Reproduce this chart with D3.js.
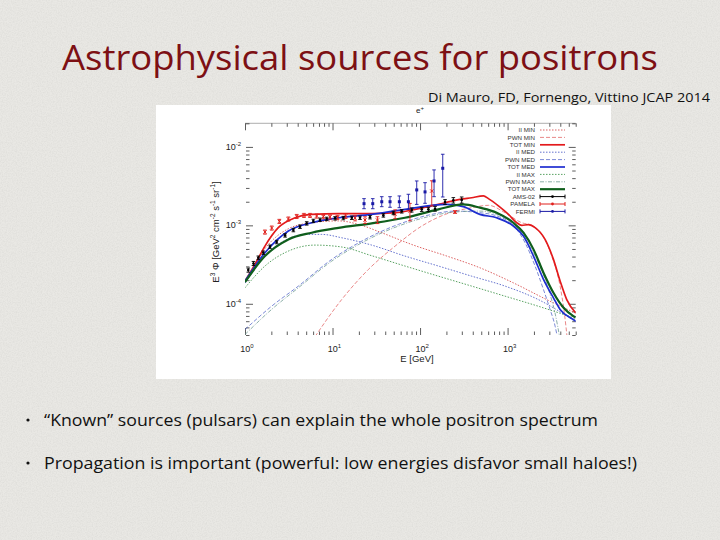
<!DOCTYPE html>
<html>
<head>
<meta charset="utf-8">
<script src="https://cdn.jsdelivr.net/npm/d3@7"></script>
<style>
body { margin: 0; background: #e8e7e3; }
svg { display: block; }
</style>
</head>
<body>
<div id="chart"></div>
<script>
// model curves, [E (GeV), E^3 flux]
const iiMin = [[1,1.89e-4],[1.69,5.04e-4],[3.13,9.06e-4],[5.78,1.08e-3],[11.7,1.14e-3],[21.5,1.0e-3],[34.9,8.2e-4],[84,5.6e-4],[202,4.06e-4],[482,2.88e-4],[1163,1.85e-4],[2800,1.13e-4],[6000,7.6e-5]];
const pwnMin = [[5.78,3.3e-5],[12.7,1.13e-4],[25.7,2.74e-4],[51.9,5.44e-4],[104.6,9.8e-4],[194,1.38e-3],[389,1.68e-3],[604,1.8e-3],[936,1.45e-3],[1452,1.08e-3],[1890,1.0e-3],[2460,7.67e-4],[3200,4.06e-4],[3980,1.68e-4],[4450,7.67e-5],[4860,3.17e-5]];
const totMin = [[1,1.95e-4],[1.3,3.18e-4],[1.69,5.44e-4],[2.4,9.34e-4],[3.73,1.25e-3],[5.78,1.38e-3],[11.7,1.41e-3],[28,1.41e-3],[52,1.45e-3],[88,1.6e-3],[162,1.85e-3],[251,2.08e-3],[389,2.25e-3],[530,2.37e-3],[604,2.19e-3],[786,1.77e-3],[1023,1.38e-3],[1273,1.08e-3],[1452,1.0e-3],[1730,1.02e-3],[2060,9.34e-4],[2680,6.62e-4],[3340,3.68e-4],[3980,1.95e-4],[4740,1.13e-4],[6000,7.67e-5]];
const iiMed = [[1,1.83e-4],[1.69,4.06e-4],[3.13,6.75e-4],[4.85,7.67e-4],[7.52,7.67e-4],[12.7,6.95e-4],[28,5.6e-4],[67.2,4.06e-4],[162,3.03e-4],[389,2.25e-4],[936,1.68e-4],[2250,1.13e-4],[6000,5.9e-5]];
const pwnMed = [[1,4.7e-5],[2.02,9.34e-5],[4.07,1.68e-4],[9.8,3.68e-4],[23.5,6.62e-4],[56.7,1.03e-3],[136,1.38e-3],[251,1.52e-3],[482,1.45e-3],[750,1.32e-3],[1163,1.0e-3],[1585,6.0e-4],[2060,3.03e-4],[2570,1.52e-4],[3060,8.47e-5],[3490,5.19e-5],[3810,3.17e-5]];
const totMed = [[1,1.95e-4],[1.69,4.48e-4],[3.13,8.47e-4],[5.78,1.08e-3],[11.7,1.25e-3],[28,1.38e-3],[67.2,1.6e-3],[202,1.85e-3],[312,1.73e-3],[482,1.38e-3],[750,1.25e-3],[1163,9.8e-4],[1519,7.31e-4],[1976,4.06e-4],[2570,2.05e-4],[3340,1.19e-4],[3980,8.47e-5],[5640,6.31e-5],[6000,6.0e-5]];
const iiMax = [[1,1.6e-4],[1.69,3.03e-4],[3.13,4.7e-4],[6.31,5.6e-4],[12.7,5.3e-4],[28,4.1e-4],[67.2,3.03e-4],[162,2.25e-4],[389,1.68e-4],[936,1.25e-4],[2250,9.3e-5],[6000,6.5e-5]];
const pwnMax = [[1,4.06e-5],[2.02,8.5e-5],[4.07,1.6e-4],[9.8,3.5e-4],[23.5,6.31e-4],[56.7,9.8e-4],[136,1.32e-3],[251,1.48e-3],[482,1.52e-3],[750,1.38e-3],[1163,1.03e-3],[1590,6.62e-4],[2250,3.34e-4],[2930,1.53e-4],[3480,7.67e-5],[3980,3.5e-5]];
const totMax = [[1,1.89e-4],[1.69,4.06e-4],[3.13,6.62e-4],[5.78,8.06e-4],[11.7,9.3e-4],[28,1.06e-3],[67.2,1.25e-3],[162,1.6e-3],[312,1.85e-3],[482,1.68e-3],[750,1.45e-3],[1163,1.08e-3],[1519,8.06e-4],[1976,4.94e-4],[2570,2.49e-4],[3340,1.38e-4],[4360,8.89e-5],[5640,6.97e-5],[6000,6.7e-5]];

// measurements
const amsE = [1.09,1.25,1.42,1.62,1.93,2.30,2.87,3.57,4.25,5.07,6.04,7.20,8.58,10.7,13.3,16.6,20.6,26.8,38.1,49.6,61.7,80.3,104.5,124.5,148.4,193,240,299];
const amsF = [2.69e-4,3.27e-4,3.87e-4,4.48e-4,5.35e-4,6.13e-4,7.45e-4,8.72e-4,9.61e-4,1.06e-3,1.14e-3,1.18e-3,1.21e-3,1.23e-3,1.24e-3,1.25e-3,1.25e-3,1.27e-3,1.34e-3,1.44e-3,1.51e-3,1.57e-3,1.60e-3,1.60e-3,1.63e-3,1.99e-3,2.09e-3,2.11e-3];
const amsErr = [0.06,0.06,0.05,0.05,0.05,0.05,0.05,0.05,0.05,0.05,0.05,0.05,0.05,0.05,0.05,0.05,0.05,0.05,0.05,0.05,0.05,0.06,0.06,0.06,0.07,0.07,0.08,0.09];

const pamE = [1.69,2.02,2.47,3.13,3.90,4.72,5.53,6.59,7.86,9.37,11.4,14.1,18.1,23.5,32.6,51.9,76.6,136,251];
const pamF = [8.22e-4,9.25e-4,1.125e-3,1.205e-3,1.30e-3,1.34e-3,1.34e-3,1.315e-3,1.29e-3,1.28e-3,1.265e-3,1.315e-3,1.24e-3,1.17e-3,1.17e-3,1.395e-3,1.524e-3,2.74e-3,1.48e-3];
const pamErr = [0.06,0.06,0.06,0.06,0.06,0.06,0.06,0.06,0.06,0.06,0.06,0.07,0.08,0.1,0.1,0.13,0.25,0.35,0.04];

const fermiE = [22.9,28.8,36.5,45.4,58,73.6,91.6,114,144.5,181.6];
const fermiF = [1.89e-3,1.89e-3,2.0e-3,2.0e-3,2.0e-3,2.0e-3,2.83e-3,2.67e-3,3.68e-3,5.34e-3];
const fermiLo = [1.63e-3,1.63e-3,1.73e-3,1.70e-3,1.68e-3,1.60e-3,1.85e-3,1.91e-3,2.32e-3,2.30e-3];
const fermiHi = [2.19e-3,2.19e-3,2.32e-3,2.32e-3,2.37e-3,2.49e-3,3.68e-3,3.50e-3,5.09e-3,8.06e-3];

const legendNames = ['II MIN','PWN MIN','TOT MIN','II MED','PWN MED','TOT MED','II MAX','PWN MAX','TOT MAX','AMS-02','PAMELA','FERMI'];
const xMajor = [1, 10, 100, 1000];
const yMajor = [1e-4, 1e-3, 1e-2];
const xLabelExp = ['0', '1', '2', '3'];
const yLabelExp = ['-4', '-3', '-2'];

const curves = [iiMin, pwnMin, totMin, iiMed, pwnMed, totMed, iiMax, pwnMax, totMax];
const curveStyle = [
	{ c: '#d33a3a', w: 0.8, d: '1.5,1.5' },
	{ c: '#e36a6a', w: 0.8, d: '4,2' },
	{ c: '#e31a1c', w: 1.7, d: null },
	{ c: '#3d4fc2', w: 0.8, d: '1.5,1.5' },
	{ c: '#5a6ccc', w: 0.8, d: '4,2' },
	{ c: '#1e2ed0', w: 1.7, d: null },
	{ c: '#2f8a3a', w: 0.8, d: '1.5,1.5' },
	{ c: '#6f9a92', w: 0.8, d: '4,1.5,1,1.5' },
	{ c: '#0f5e1c', w: 2.2, d: null }
];
const amsColor = '#000', pamColor = '#e0201c', fermiColor = '#1a1aa6';

const W = 720, H = 540;
const svg = d3.select('#chart').append('svg')
	.attr('width', W).attr('height', H);

const defs = svg.append('defs');
const paper = defs.append('filter').attr('id', 'paper')
	.attr('x', 0).attr('y', 0).attr('width', 1).attr('height', 1);
paper.append('feTurbulence').attr('type', 'fractalNoise')
	.attr('baseFrequency', 0.8).attr('numOctaves', 2).attr('seed', 4);
paper.append('feColorMatrix').attr('type', 'matrix')
	.attr('values', '0 0 0 0 0.45  0 0 0 0 0.45  0 0 0 0 0.43  1 0 0 0 -0.35');

svg.append('rect').attr('width', W).attr('height', H).attr('fill', '#e9e8e4');
svg.append('rect').attr('width', W).attr('height', H)
	.attr('filter', 'url(#paper)').attr('opacity', 0.35);

// slide texts
svg.append('text')
	.attr('x', 62).attr('y', 70)
	.attr('textLength', 596).attr('lengthAdjust', 'spacingAndGlyphs')
	.attr('font-family', 'Open Sans, sans-serif').attr('font-size', 34)
	.attr('fill', '#7d1014')
	.text('Astrophysical sources for positrons');

svg.append('text')
	.attr('x', 428).attr('y', 102)
	.attr('textLength', 282).attr('lengthAdjust', 'spacingAndGlyphs')
	.attr('font-family', 'Open Sans, sans-serif').attr('font-size', 13)
	.attr('fill', '#111')
	.text('Di Mauro, FD, Fornengo, Vittino JCAP 2014');

const bullets = [
	{ y: 426, len: 554, t: '\u201cKnown\u201d sources (pulsars) can explain the whole positron spectrum' },
	{ y: 469, len: 593, t: 'Propagation is important (powerful: low energies disfavor small haloes!)' }
];
bullets.forEach(b => {
	svg.append('circle').attr('cx', 28).attr('cy', b.y - 6).attr('r', 1.6).attr('fill', '#111');
	svg.append('text')
		.attr('x', 44).attr('y', b.y)
		.attr('textLength', b.len).attr('lengthAdjust', 'spacingAndGlyphs')
		.attr('font-family', 'Open Sans, sans-serif').attr('font-size', 17)
		.attr('fill', '#111')
		.text(b.t);
});

// chart picture
svg.append('rect').attr('x', 156).attr('y', 105).attr('width', 455).attr('height', 274).attr('fill', '#fff');

const x0 = 245, x1 = 575.7, y0 = 335, y1 = 123.3;
const x = d3.scaleLog().domain([1, 6000]).range([x0, x1]);
const y = d3.scaleLog().domain([4e-5, 2e-2]).range([y0, y1]);
const font = 'Liberation Sans, Arial, sans-serif';

const g = svg.append('g');
g.append('line').attr('x1', x0).attr('x2', x1).attr('y1', y1).attr('y2', y1)
	.attr('stroke', '#999').attr('stroke-width', 0.8);

const xMinor = x.ticks().filter(v => !xMajor.includes(v));
const yMinor = y.ticks().filter(v => !yMajor.some(m => Math.abs(m - v) / m < 1e-6));

function drawAxis(axis, tx, ty) {
	const a = g.append('g').attr('transform', `translate(${tx},${ty})`).call(axis);
	a.select('.domain').remove();
	a.selectAll('text').remove();
	a.selectAll('line').attr('stroke', '#333').attr('stroke-width', 0.8);
}
drawAxis(d3.axisBottom(x).tickValues(xMinor).tickSize(-3.5), 0, y0);
drawAxis(d3.axisBottom(x).tickValues(xMajor).tickSize(-7), 0, y0);
drawAxis(d3.axisTop(x).tickValues(xMinor).tickSize(-3.5), 0, y1);
drawAxis(d3.axisTop(x).tickValues(xMajor).tickSize(-7), 0, y1);
drawAxis(d3.axisLeft(y).tickValues(yMinor).tickSize(-3.5), x0 + 1, 0);
drawAxis(d3.axisLeft(y).tickValues(yMajor).tickSize(-7), x0 + 1, 0);
drawAxis(d3.axisRight(y).tickValues(yMinor).tickSize(-3.5), x1, 0);
drawAxis(d3.axisRight(y).tickValues(yMajor).tickSize(-7), x1, 0);

function powLabel(px, py, exp, anchor) {
	const t = g.append('text').attr('x', px).attr('y', py)
		.attr('text-anchor', anchor).attr('font-family', font)
		.attr('font-size', 9).attr('fill', '#222');
	t.append('tspan').text('10');
	t.append('tspan').attr('dy', -4).attr('font-size', 6).text(exp);
}
xMajor.forEach((v, i) => powLabel(x(v) + 2, 352, xLabelExp[i], 'middle'));
yMajor.forEach((v, i) => powLabel(241, y(v) + 3, yLabelExp[i], 'end'));

g.append('text').attr('x', 417).attr('y', 362).attr('text-anchor', 'middle')
	.attr('font-family', font).attr('font-size', 9.5).attr('fill', '#222')
	.text('E [GeV]');

const et = g.append('text').attr('x', 420).attr('y', 113).attr('text-anchor', 'middle')
	.attr('font-family', font).attr('font-size', 8).attr('fill', '#222');
et.append('tspan').text('e');
et.append('tspan').attr('dy', -3).attr('font-size', 6).text('+');

// y axis title with superscripts
const yl = g.append('text')
	.attr('transform', 'translate(219,232) rotate(-90)')
	.attr('text-anchor', 'middle').attr('font-family', font)
	.attr('font-size', 9.5).attr('fill', '#222');
const yParts = [['E', ''], ['3', 's'], [' \u03a6 [GeV', ''], ['2', 's'], [' cm', ''], ['-2', 's'], [' s', ''], ['-1', 's'], [' sr', ''], ['-1', 's'], [']', '']];
let up = false;
yParts.forEach(p => {
	const sup = p[1] === 's';
	const ts = yl.append('tspan').text(p[0]);
	if (sup && !up) { ts.attr('dy', -4).attr('font-size', 6.5); up = true; }
	else if (!sup && up) { ts.attr('dy', 4); up = false; }
	else if (sup) ts.attr('font-size', 6.5);
});

// curves
defs.append('clipPath').attr('id', 'plot').append('rect')
	.attr('x', x0).attr('y', y1).attr('width', x1 - x0).attr('height', y0 - y1);
const plot = g.append('g').attr('clip-path', 'url(#plot)');
const line = d3.line().x(d => x(d[0])).y(d => y(d[1])).curve(d3.curveMonotoneX);

const order = [0, 1, 3, 4, 6, 7, 2, 5, 8];
order.forEach(i => {
	const s = curveStyle[i];
	plot.append('path').datum(curves[i]).attr('d', line)
		.attr('fill', 'none').attr('stroke', s.c).attr('stroke-width', s.w)
		.attr('stroke-dasharray', s.d);
});

function errBars(es, fs, lo, hi, color) {
	const grp = plot.append('g').attr('stroke', color).attr('stroke-width', 0.9);
	es.forEach((e, i) => {
		const px = x(e);
		grp.append('line').attr('x1', px).attr('x2', px).attr('y1', y(lo[i])).attr('y2', y(hi[i]));
		[lo[i], hi[i]].forEach(v => {
			grp.append('line').attr('x1', px - 1.8).attr('x2', px + 1.8).attr('y1', y(v)).attr('y2', y(v));
		});
	});
}

errBars(pamE, pamF, pamF.map((f, i) => f * (1 - pamErr[i])), pamF.map((f, i) => f * (1 + pamErr[i])), pamColor);
plot.append('g').selectAll('path').data(pamE).join('path')
	.attr('d', (e, i) => {
		const px = x(e), py = y(pamF[i]);
		return `M${px - 1.6},${py - 1.6}L${px + 1.6},${py + 1.6}M${px - 1.6},${py + 1.6}L${px + 1.6},${py - 1.6}`;
	})
	.attr('stroke', pamColor).attr('stroke-width', 1);

errBars(fermiE, fermiF, fermiLo, fermiHi, fermiColor);
plot.append('g').selectAll('rect').data(fermiE).join('rect')
	.attr('x', e => x(e) - 1.5).attr('y', (e, i) => y(fermiF[i]) - 1.5)
	.attr('width', 3).attr('height', 3).attr('fill', fermiColor);

errBars(amsE, amsF, amsF.map((f, i) => f * (1 - amsErr[i])), amsF.map((f, i) => f * (1 + amsErr[i])), amsColor);
plot.append('g').selectAll('circle').data(amsE).join('circle')
	.attr('cx', e => x(e)).attr('cy', (e, i) => y(amsF[i]))
	.attr('r', 1.3).attr('fill', amsColor);

// legend
const lx = 535, lx0 = 540, lx1 = 565, ly = 130, lstep = 7.4;
const legend = g.append('g');
legendNames.forEach((name, i) => {
	const yy = ly + i * lstep;
	legend.append('text').attr('x', lx).attr('y', yy + 2.2)
		.attr('text-anchor', 'end').attr('font-family', font)
		.attr('font-size', 6.2).attr('fill', '#333').text(name);
	if (i < 9) {
		const s = curveStyle[i];
		legend.append('line').attr('x1', lx0).attr('x2', lx1).attr('y1', yy).attr('y2', yy)
			.attr('stroke', s.c).attr('stroke-width', s.w).attr('stroke-dasharray', s.d);
	} else {
		const c = [amsColor, pamColor, fermiColor][i - 9];
		legend.append('line').attr('x1', lx0).attr('x2', lx1).attr('y1', yy).attr('y2', yy)
			.attr('stroke', c).attr('stroke-width', 1);
		[lx0, lx1].forEach(v => legend.append('line').attr('x1', v).attr('x2', v)
			.attr('y1', yy - 2).attr('y2', yy + 2).attr('stroke', c).attr('stroke-width', 1));
		legend.append('circle').attr('cx', (lx0 + lx1) / 2).attr('cy', yy).attr('r', 1.4).attr('fill', c);
	}
});
</script>
</body>
</html>
